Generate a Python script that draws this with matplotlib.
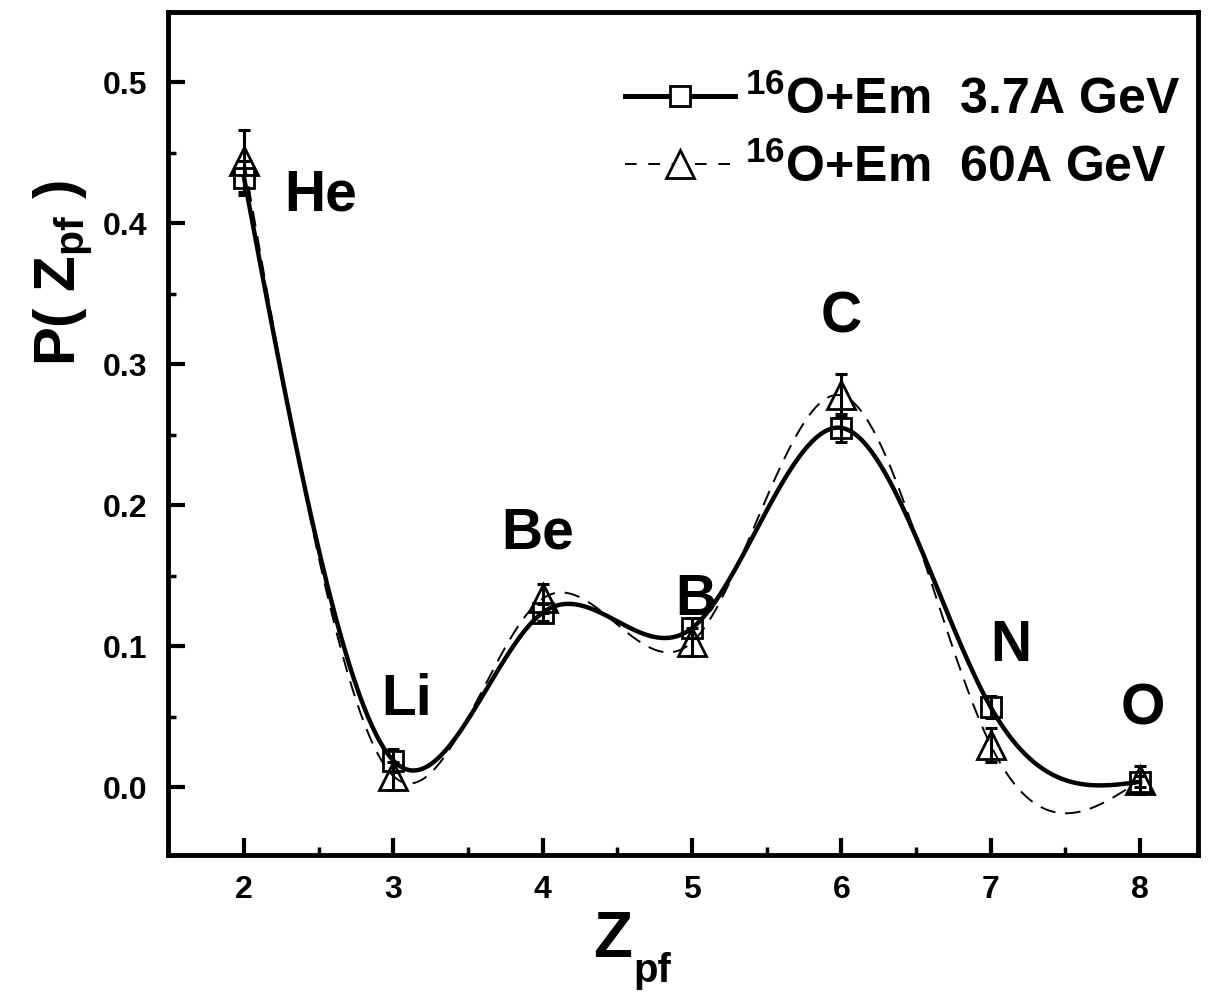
import numpy as np
import matplotlib
matplotlib.use("Agg")
import matplotlib.pyplot as plt

plt.rcParams['font.family'] = ['Liberation Sans', 'DejaVu Sans']
plt.rcParams['font.weight'] = 'bold'
plt.rcParams['mathtext.default'] = 'regular'

# Data
z = [2, 3, 4, 5, 6, 7, 8]
elements = ["He", "Li", "Be", "B", "C", "N", "O"]
p_37 = [0.432, 0.019, 0.124, 0.113, 0.255, 0.057, 0.004]
err_37 = [0.012, 0.008, 0.006, 0.007, 0.010, 0.008, 0.004]
p_60 = [0.444, 0.008, 0.134, 0.103, 0.278, 0.030, 0.005]
err_60 = [0.022, 0.010, 0.010, 0.010, 0.015, 0.012, 0.010]
label_37 = r"$^{16}$O+Em  3.7A GeV"
label_60 = r"$^{16}$O+Em  60A GeV"
elem_x = [2.27, 2.92, 3.72, 4.89, 5.86, 7.0, 7.87]
elem_y = [0.42, 0.062, 0.18, 0.133, 0.333, 0.10, 0.055]


def natural_spline(x, y, xs):
    x = np.asarray(x, float)
    y = np.asarray(y, float)
    n = len(x)
    h = np.diff(x)
    A = np.zeros((n, n))
    b = np.zeros(n)
    A[0, 0] = 1
    A[-1, -1] = 1
    for i in range(1, n - 1):
        A[i, i - 1] = h[i - 1]
        A[i, i] = 2 * (h[i - 1] + h[i])
        A[i, i + 1] = h[i]
        b[i] = 3 * ((y[i + 1] - y[i]) / h[i] - (y[i] - y[i - 1]) / h[i - 1])
    c = np.linalg.solve(A, b)
    out = np.empty_like(xs)
    for k, xv in enumerate(xs):
        i = min(max(np.searchsorted(x, xv) - 1, 0), n - 2)
        dx = xv - x[i]
        bi = (y[i + 1] - y[i]) / h[i] - h[i] * (2 * c[i] + c[i + 1]) / 3
        di = (c[i + 1] - c[i]) / (3 * h[i])
        out[k] = y[i] + bi * dx + c[i] * dx ** 2 + di * dx ** 3
    return out


fig = plt.figure(figsize=(12.12, 9.92), dpi=100)
ax = fig.add_axes([0.1386, 0.138, 0.85, 0.85])

xs = np.linspace(2, 8, 400)
ax.plot(xs, natural_spline(z, p_37, xs), color='black', lw=3.2, zorder=2)
ax.plot(xs, natural_spline(z, p_60, xs), color='black', lw=1.4,
        dashes=(8, 5), zorder=2)

ax.errorbar(z, p_37, yerr=err_37, fmt='none', ecolor='black', elinewidth=2.2,
            capsize=4, capthick=2.2, zorder=3)
ax.errorbar(z, p_60, yerr=err_60, fmt='none', ecolor='black', elinewidth=2.2,
            capsize=4, capthick=2.2, zorder=3)
ax.plot(z, p_37, ls='none', marker='s', ms=15, mfc='none', mec='black',
        mew=2, zorder=4)
ax.plot(z, p_60, ls='none', marker='^', ms=20, mfc='none', mec='black',
        mew=2, zorder=4)

# legend handles
h1, = ax.plot([], [], color='black', lw=3.6, marker='s', ms=15, mfc='white',
              mec='black', mew=2)
h2, = ax.plot([], [], color='black', lw=1.4, dashes=(6, 6), marker='^', ms=20,
              mfc='white', mec='black', mew=2)
leg = ax.legend([h1, h2], [label_37, label_60], loc='upper right',
                frameon=False, prop={'size': 36, 'weight': 'bold'},
                handlelength=2.2, handletextpad=0.2, labelspacing=0.4,
                borderaxespad=0.0, bbox_to_anchor=(1.002, 0.948))

for xv, yv, t in zip(elem_x, elem_y, elements):
    ax.text(xv, yv, t, fontsize=41, fontweight='bold', va='center', ha='left')

ax.set_xlim(1.49, 8.39)
ax.set_ylim(-0.048, 0.55)
ax.set_xticks(z)
ax.set_xticks(np.arange(2.5, 8.5, 1.0), minor=True)
ax.set_yticks([0.0, 0.1, 0.2, 0.3, 0.4, 0.5])
ax.set_yticks(np.arange(0.05, 0.55, 0.1), minor=True)
ax.yaxis.set_major_formatter(matplotlib.ticker.FormatStrFormatter('%.1f'))
ax.tick_params(which='major', direction='in', length=12, width=3,
               labelsize=23, pad=14)
ax.tick_params(axis='y', which='major', pad=15)
ax.tick_params(which='minor', direction='in', length=6, width=2.5)
for s in ax.spines.values():
    s.set_linewidth(3.5)

# axis titles (Z with a low-set subscript, as in the original)
fig.text(593 / 1212, 1 - 957 / 992, "Z", fontsize=46, fontweight='bold',
         ha='left', va='baseline')
fig.text(633 / 1212, 1 - 982 / 992, "pf", fontsize=29, fontweight='bold',
         ha='left', va='baseline')
ax.set_ylabel(r"P( Z$_{pf}$ )", fontsize=42, fontweight='bold')
ax.yaxis.set_label_coords(-0.072, 0.69)

fig.savefig("out.png", dpi=100)
